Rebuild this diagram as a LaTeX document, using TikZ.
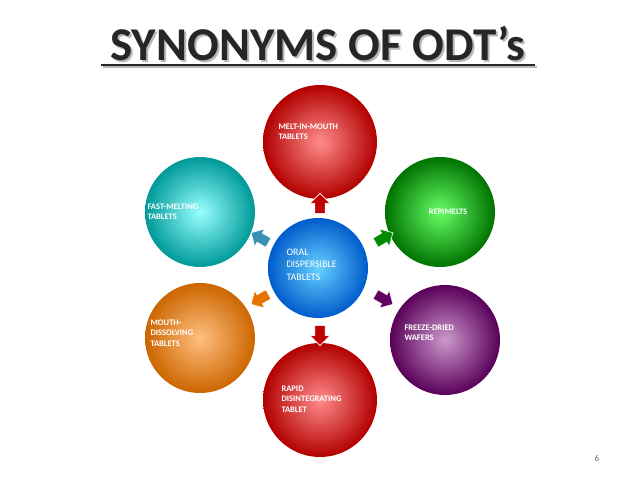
\documentclass[tikz,border=0pt]{standalone}
\usepackage{fontspec}
\setmainfont{Carlito}
\usetikzlibrary{shapes.arrows,shadows}
\tikzset{
 bub/.style={circle,minimum size=#1,inner sep=0pt},
 lbl/.style={text=white,font=\bfseries\fontsize{8.5}{10.5}\selectfont,align=left,anchor=north west},
 arr/.style={single arrow,minimum height=20pt,minimum width=20pt,single arrow head extend=3pt,inner sep=3pt,draw=white,line width=0.6pt}
}
\begin{document}
\begin{tikzpicture}[x=1pt,y=-1pt]
\useasboundingbox (0,0) rectangle (638,479);
% title
\node (tsh) at (320,46) {\fontsize{47}{48}\selectfont\bfseries\color{gray!55}SYNONYMS OF ODT’s};
\node (title) at (318,44) {\fontsize{47}{48}\selectfont\bfseries\color{black!85}SYNONYMS OF ODT’s};
\draw[gray!55,line width=2pt] (103,67) -- (537,67);
\draw[black!85,line width=2pt] (101,65) -- (535,65);
% circles
\shade[inner color=red!45!white,outer color=red!70!black] (320,142) circle (57);
\node[bub=114pt] (top) at (320,142) {};
\shade[inner color=green!60!white,outer color=green!45!black] (440,212) circle (55);
\node[bub=110pt] (rt) at (440,212) {};
\shade[inner color=violet!40!white,outer color=violet!70!black] (445,340) circle (55);
\node[bub=110pt] (rb) at (445,340) {};
\shade[inner color=red!45!white,outer color=red!70!black] (320,400) circle (57);
\node[bub=114pt] (bot) at (320,400) {};
\shade[inner color=orange!50!white,outer color=orange!80!black] (200,338) circle (55);
\node[bub=110pt] (lb) at (200,338) {};
\shade[inner color=cyan!40!white,outer color=cyan!60!black] (200,212) circle (55);
\node[bub=110pt] (lt) at (200,212) {};
\shade[inner color=blue!30!cyan!60!white,outer color=blue!55!cyan!80!black] (318,268) circle (50);
\node[bub=100pt] (c) at (318,268) {};
% labels
\node[lbl] (t1) at (275,120) {MELT-IN-MOUTH\\TABLETS};
\node[lbl,anchor=center] (t2) at (448,212) {REPIMELTS};
\node[lbl] (t3) at (401,321) {FREEZE-DRIED\\WAFERS};
\node[lbl] (t4) at (278,382) {RAPID\\DISINTEGRATING\\TABLET};
\node[lbl] (t5) at (147,316) {MOUTH-\\DISSOLVING\\TABLETS};
\node[lbl] (t6) at (144,200) {FAST-MELTING\\TABLETS};
\node[lbl,font=\fontsize{10}{12.5}\selectfont,text=white] (t7) at (283,245) {ORAL\\DISPERSIBLE\\TABLETS};
% arrows
\node[arr,fill=red!75!black,rotate=90] (a1) at (320,206) {};
\node[arr,fill=green!55!black,rotate=30] (a2) at (382,239) {};
\node[arr,fill=violet!75!black,rotate=-30] (a3) at (382,298) {};
\node[arr,fill=red!75!black,rotate=-90] (a4) at (320,333) {};
\node[arr,fill=orange!90!black,rotate=-150] (a5) at (262,298) {};
\node[arr,fill=cyan!70!black,rotate=150] (a6) at (262,239) {};
\node[text=black!60,font=\fontsize{9}{10}\selectfont] (pg) at (597,458) {6};
\end{tikzpicture}
\end{document}
